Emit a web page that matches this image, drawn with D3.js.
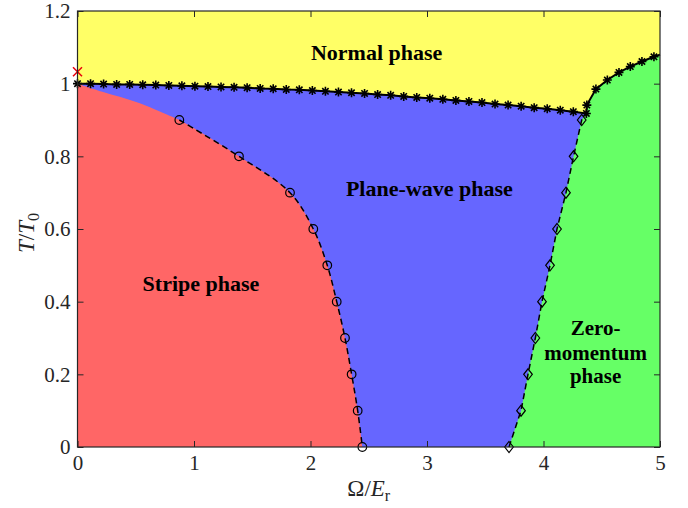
<!DOCTYPE html>
<html>
<head>
<meta charset="utf-8">
<script src="https://cdn.jsdelivr.net/npm/d3@7"></script>
<style>
  body { margin: 0; background: #fff; }
  svg { display: block; }
  .tick text { font-family: "Liberation Serif", serif; font-size: 21px; fill: #262626; }
  .lbl { font-family: "Liberation Serif", serif; font-weight: bold; font-size: 22px; fill: #000; }
  .lbl.stack { font-size: 21px; }
  .axlbl { font-family: "Liberation Serif", serif; font-size: 23px; fill: #262626; }
</style>
</head>
<body>
<div id="chart"></div>
<script>
// ---- data ----
const xTicks = [0, 1, 2, 3, 4, 5];
const yTicks = [0, 0.2, 0.4, 0.6, 0.8, 1, 1.2];

// normal-phase boundary, left branch (stars)
const normOmega = [0, 0.112, 0.224, 0.336, 0.448, 0.560, 0.672, 0.784, 0.896, 1.008,
  1.120, 1.232, 1.344, 1.456, 1.568, 1.680, 1.792, 1.904, 2.016, 2.128,
  2.240, 2.352, 2.464, 2.576, 2.688, 2.800, 2.912, 3.024, 3.136, 3.248,
  3.360, 3.472, 3.584, 3.696, 3.808, 3.920, 4.032, 4.144, 4.256, 4.368];
const normT = [1.000, 1.000, 0.999, 0.998, 0.998, 0.997, 0.996, 0.995, 0.994, 0.993,
  0.992, 0.991, 0.990, 0.989, 0.987, 0.986, 0.984, 0.983, 0.981, 0.979,
  0.977, 0.975, 0.973, 0.970, 0.968, 0.965, 0.962, 0.960, 0.957, 0.954,
  0.951, 0.948, 0.944, 0.941, 0.938, 0.934, 0.931, 0.927, 0.923, 0.918];

// normal-phase boundary, right branch (stars; last point is the edge, no marker)
const rightOmega = [4.372, 4.450, 4.548, 4.648, 4.745, 4.845, 4.948, 5.0];
const rightT     = [0.941, 0.985, 1.010, 1.031, 1.047, 1.061, 1.074, 1.080];

// stripe / plane-wave boundary (circles)
const stripeOmega = [0.874, 1.386, 1.824, 2.024, 2.144, 2.225, 2.296, 2.353, 2.405, 2.445];
const stripeT     = [0.9, 0.8, 0.7, 0.6, 0.5, 0.4, 0.3, 0.2, 0.1, 0];

// unmarked upper edge of the stripe region
const edgeOmega = [0, 0.22, 0.51, 0.79];
const edgeT     = [1.0, 0.977, 0.949, 0.912];

// zero-momentum / plane-wave boundary (diamonds)
const zeroOmega = [3.704, 3.807, 3.867, 3.930, 3.987, 4.056, 4.116, 4.193, 4.258, 4.328];
const zeroT     = [0, 0.1, 0.2, 0.3, 0.4, 0.5, 0.6, 0.7, 0.8, 0.9];

const crossPt = [0, 1.033];

const labels = [
  {text: "Normal phase",     omega: 2.568, t: 1.066},
  {text: "Plane-wave phase", omega: 3.02,  t: 0.690},
  {text: "Stripe phase",     omega: 1.06,  t: 0.429},
  {text: "Zero-",            omega: 4.447, t: 0.309, stack: true},
  {text: "momentum",         omega: 4.447, t: 0.240, stack: true},
  {text: "phase",            omega: 4.447, t: 0.176, stack: true}
];

const colors = {normal: "#ffff66", plane: "#6666ff", stripe: "#ff6666", zero: "#66ff66"};

// ---- layout ----
const W = 688, H = 508;
const x = d3.scaleLinear().domain([0, 5]).range([77.5, 660]);
const y = d3.scaleLinear().domain([0, 1.2]).range([447, 11]);

const svg = d3.select("#chart").append("svg").attr("width", W).attr("height", H);

const zip = (a, b) => a.map((v, i) => [v, b[i]]);
const normPts   = zip(normOmega, normT);
const rightPts  = zip(rightOmega, rightT);
const stripePts = zip(stripeOmega, stripeT);
const edgePts   = zip(edgeOmega, edgeT);
const zeroPts   = zip(zeroOmega, zeroT);

const lin = d3.line().x(d => x(d[0])).y(d => y(d[1]));
const smooth = d3.line().x(d => x(d[0])).y(d => y(d[1])).curve(d3.curveCatmullRom);

const g = svg.append("g");

// regions
g.append("rect")
  .attr("x", x(0)).attr("y", y(1.2))
  .attr("width", x(5) - x(0)).attr("height", y(0) - y(1.2))
  .attr("fill", colors.normal);

const bluePts = normPts.concat(rightPts);
g.append("path")
  .attr("d", lin(bluePts) + `L${x(5)},${y(0)}L${x(0)},${y(0)}Z`)
  .attr("fill", colors.plane);

g.append("path")
  .attr("d", smooth(edgePts.concat(stripePts)) + `L${x(0)},${y(0)}Z`)
  .attr("fill", colors.stripe);

const corner = normPts[normPts.length - 1];
const greenPts = zeroPts.concat([corner], rightPts);
g.append("path")
  .attr("d", lin(greenPts) + `L${x(5)},${y(0)}Z`)
  .attr("fill", colors.zero);

// dashed boundaries
g.append("path").attr("d", smooth(stripePts))
  .attr("fill", "none").attr("stroke", "#000").attr("stroke-width", 1.5)
  .attr("stroke-dasharray", "6,4");
g.append("path").attr("d", lin(zeroPts.concat([corner])))
  .attr("fill", "none").attr("stroke", "#000").attr("stroke-width", 1.5)
  .attr("stroke-dasharray", "6,4");

// normal-phase line
g.append("path").attr("d", lin(bluePts))
  .attr("fill", "none").attr("stroke", "#000").attr("stroke-width", 2);

// markers
const starPath = r => {
  const a = r * Math.SQRT1_2;
  return `M${-r},0L${r},0M0,${-r}L0,${r}M${-a},${-a}L${a},${a}M${-a},${a}L${a},${-a}`;
};
g.append("g").selectAll("path")
  .data(bluePts.filter(d => d[0] < 5))
  .join("path")
  .attr("transform", d => `translate(${x(d[0])},${y(d[1])})`)
  .attr("d", starPath(4.5))
  .attr("stroke", "#000").attr("stroke-width", 1.6).attr("fill", "none");

g.append("g").selectAll("circle")
  .data(stripePts)
  .join("circle")
  .attr("cx", d => x(d[0])).attr("cy", d => y(d[1])).attr("r", 4.3)
  .attr("fill", "none").attr("stroke", "#000").attr("stroke-width", 1.2);

g.append("g").selectAll("path")
  .data(zeroPts)
  .join("path")
  .attr("transform", d => `translate(${x(d[0])},${y(d[1])})`)
  .attr("d", "M0,-5.5L4.3,0L0,5.5L-4.3,0Z")
  .attr("fill", "none").attr("stroke", "#000").attr("stroke-width", 1.2);

g.append("path")
  .attr("transform", `translate(${x(crossPt[0])},${y(crossPt[1])})`)
  .attr("d", "M-4.5,-4.5L4.5,4.5M-4.5,4.5L4.5,-4.5")
  .attr("stroke", "#e8000b").attr("stroke-width", 1.5);

// phase labels
g.append("g").selectAll("text")
  .data(labels)
  .join("text")
  .attr("class", d => d.stack ? "lbl stack" : "lbl")
  .attr("x", d => x(d.omega)).attr("y", d => y(d.t))
  .attr("text-anchor", "middle")
  .text(d => d.text);

// axes (ticks pointing inwards, box on all sides)
const fmt = d3.format("~g");
const axes = svg.append("g");
axes.append("g").attr("transform", `translate(0,${y(0)})`)
  .call(d3.axisBottom(x).tickValues(xTicks).tickFormat(fmt).tickSizeInner(-6).tickSizeOuter(0).tickPadding(8));
axes.append("g").attr("transform", `translate(${x(0)},0)`)
  .call(d3.axisLeft(y).tickValues(yTicks).tickFormat(fmt).tickSizeInner(-6).tickSizeOuter(0).tickPadding(7));
axes.append("g").attr("transform", `translate(0,${y(1.2)})`)
  .call(d3.axisTop(x).tickValues(xTicks).tickFormat("").tickSizeInner(-6).tickSizeOuter(0));
axes.append("g").attr("transform", `translate(${x(5)},0)`)
  .call(d3.axisRight(y).tickValues(yTicks).tickFormat("").tickSizeInner(-6).tickSizeOuter(0));
axes.selectAll(".domain").remove();
axes.selectAll(".tick line").attr("stroke", "#262626");
axes.append("rect")
  .attr("x", x(0)).attr("y", y(1.2))
  .attr("width", x(5) - x(0)).attr("height", y(0) - y(1.2))
  .attr("fill", "none").attr("stroke", "#262626").attr("stroke-width", 1.2);

// axis titles
const xl = svg.append("text").attr("class", "axlbl")
  .attr("x", (x(0) + x(5)) / 2).attr("y", 496).attr("text-anchor", "middle");
xl.append("tspan").text("\u03A9/");
xl.append("tspan").attr("font-style", "italic").text("E");
xl.append("tspan").attr("font-size", "16px").attr("dy", 5).text("r");

const yl = svg.append("text").attr("class", "axlbl")
  .attr("transform", `translate(34,${(y(0) + y(1.2)) / 2 + 4}) rotate(-90)`)
  .attr("text-anchor", "middle");
yl.append("tspan").attr("font-style", "italic").text("T");
yl.append("tspan").text("/");
yl.append("tspan").attr("font-style", "italic").text("T");
yl.append("tspan").attr("font-size", "16px").attr("dy", 5).text("0");
</script>
</body>
</html>
